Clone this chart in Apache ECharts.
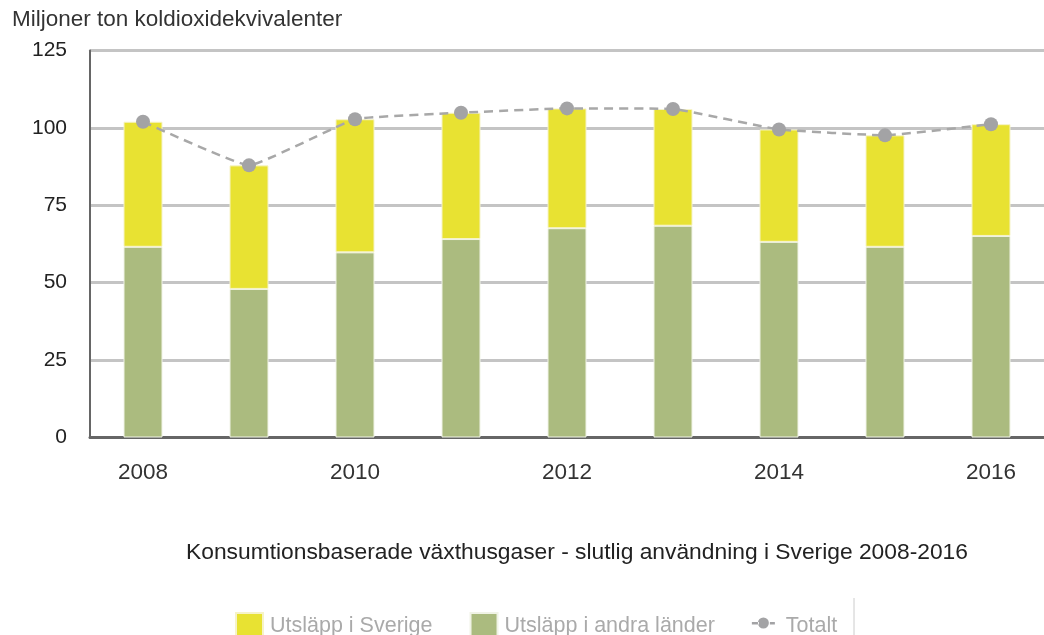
<!DOCTYPE html>
<html>
<head>
<meta charset="utf-8">
<script src="https://cdn.jsdelivr.net/npm/echarts@6/dist/echarts.min.js"></script>
<style>html,body{margin:0;padding:0;background:#fff}#c{width:1044px;height:635px}</style>
</head>
<body>
<div id="c"></div>
<script>
const years = ['2008','2009','2010','2011','2012','2013','2014','2015','2016'];
const andraLander = [61.6, 48.0, 59.8, 64.1, 67.6, 68.4, 63.2, 61.6, 65.1];
const totalt = [102.0, 87.9, 102.8, 104.9, 106.3, 106.1, 99.5, 97.6, 101.2];
const sverige = totalt.map((t, i) => +(t - andraLander[i]).toFixed(1));
const yTicks = [0, 25, 50, 75, 100, 125];

const FONT = 'Liberation Sans, Arial, sans-serif';
const lineIcon = 'path://M0,0 L0,0 M27,26 L27,26 M0,9 L7,9 L7,11.5 L0,11.5 Z M18,9 L23,9 L23,11.5 L18,11.5 Z M6,10 A5.5,5.5 0 1,0 17,10 A5.5,5.5 0 1,0 6,10 Z';
const chart = echarts.init(document.getElementById('c'), null, {renderer: 'canvas'});
chart.setOption({
  animation: false,
  backgroundColor: '#fff',
  textStyle: {fontFamily: FONT},
  title: [
    {text: 'Miljoner ton koldioxidekvivalenter', left: 7, top: 3,
     textStyle: {fontSize: 22.5, fontWeight: 'normal', color: '#333', fontFamily: FONT}},
    {text: 'Konsumtionsbaserade växthusgaser - slutlig användning i Sverige 2008-2016', left: 572, textAlign: 'center', top: 536,
     textStyle: {fontSize: 22.8, fontWeight: 'normal', color: '#222', fontFamily: FONT}}
  ],
  legend: {
    left: 235, top: 612, padding: 0, itemWidth: 27, itemHeight: 26, itemGap: 37,
    textStyle: {fontSize: 21.5, color: '#aaa', fontFamily: FONT, padding: [0, 0, 8, 2]},
    data: [
      {name: 'Utsläpp i Sverige', icon: 'rect'},
      {name: 'Utsläpp i andra länder', icon: 'rect'},
      {name: 'Totalt', icon: lineIcon}
    ]
  },
  grid: {left: 90, top: 50.5, width: 962, height: 387},
  xAxis: {
    type: 'category', data: years,
    axisLine: {lineStyle: {color: '#666', width: 3}},
    axisTick: {show: false},
    axisLabel: {interval: 1, fontSize: 22.5, color: '#333', margin: 24, fontFamily: FONT}
  },
  yAxis: {
    type: 'value', min: 0, max: 125, interval: 25,
    axisLine: {show: true, lineStyle: {color: '#666', width: 2}},
    axisTick: {show: false},
    axisLabel: {fontSize: 21, color: '#222', margin: 23, fontFamily: FONT},
    splitLine: {lineStyle: {color: '#c4c4c4', width: 3}}
  },
  series: [
    {name: 'Utsläpp i andra länder', type: 'bar', stack: 's', barWidth: 39, data: andraLander,
     itemStyle: {color: '#abbb7f', borderColor: '#f0f3e6', borderWidth: 1}},
    {name: 'Utsläpp i Sverige', type: 'bar', stack: 's', barWidth: 39, data: sverige,
     itemStyle: {color: '#e8e232', borderColor: '#f6f3c8', borderWidth: 1}},
    {name: 'Totalt', type: 'line', data: totalt, smooth: 0.1, symbol: 'circle', symbolSize: 14,
     itemStyle: {color: '#a3a3a5'},
     lineStyle: {color: '#a8a8a8', width: 2.5, type: [9, 6]}, z: 5}
  ],
  graphic: [
    {type: 'line', shape: {x1: 854, y1: 598, x2: 854, y2: 635}, style: {stroke: '#ccc', lineWidth: 1}}
  ]
});
</script>
</body>
</html>
